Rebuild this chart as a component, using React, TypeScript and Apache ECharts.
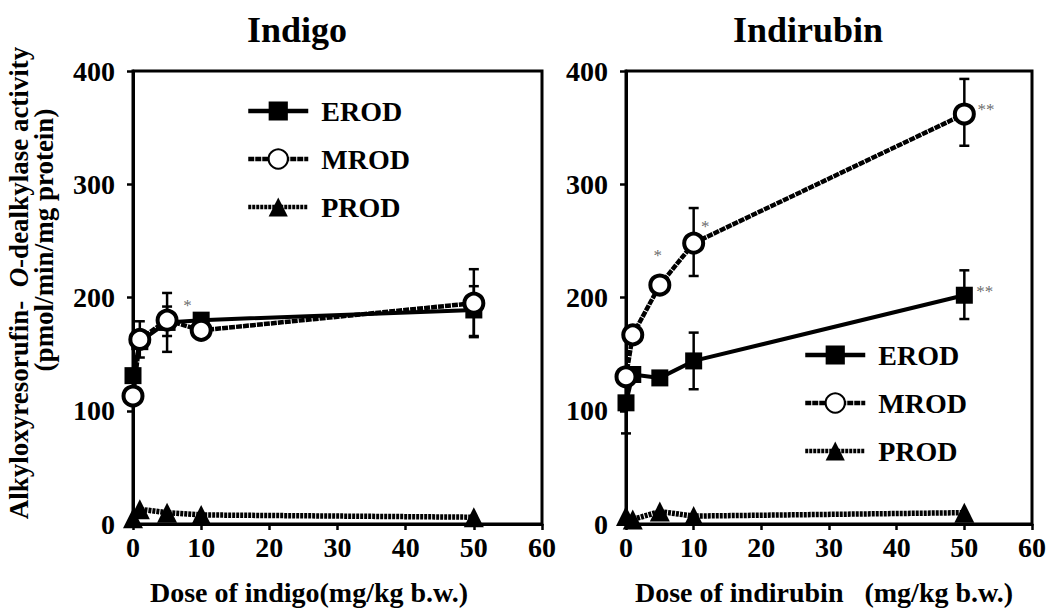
import React, { useEffect, useRef } from 'react';
import * as echarts from 'echarts';

// ---- data ----
const doses = [0, 1, 5, 10, 50];
const indigoEROD = [131, 161, 178, 180, 189];
const indigoMROD = [113, 163, 180, 171, 195];
const indigoPROD = [5, 13, 10, 8, 6];
const indirubinEROD = [107, 132, 129, 144, 202];
const indirubinMROD = [130, 167, 211, 248, 362];
const indirubinPROD = [7, 4, 11, 7, 10];

// error bars: [dose, low, high]
const indigoErrors = [
  [1, 147, 179],
  [5, 152, 204],
  [5, 166, 192],
  [50, 166, 210],
  [50, 165, 225],
];
const indirubinErrors = [
  [0, 80, 133],
  [10, 119, 169],
  [50, 181, 224],
  [10, 219, 279],
  [50, 334, 393],
];

// significance marks: [dose, value, text]
const indigoMarks = [[8, 193, '*']];
const indirubinMarks = [
  [4.7, 237, '*'],
  [11.7, 263, '*'],
  [53.2, 366, '**'],
  [53.0, 205, '**'],
];

const xMin = 0, xMax = 60, xStep = 10;
const yMin = 0, yMax = 400, yStep = 100;
const legendNames = ['EROD', 'MROD', 'PROD'];

const FONT = '"Liberation Serif", "Times New Roman", serif';

const pair = (xs: number[], ys: number[]) => xs.map((x, i) => [x, ys[i]]);

export default function App() {
  const ref = useRef<HTMLDivElement>(null);
  useEffect(() => {
    if (!ref.current) return;
    const chart = echarts.init(ref.current, null, { renderer: 'svg' });

    const axisLabel = { color: '#000', fontFamily: FONT, fontWeight: 'bold', fontSize: 28 };
    const mkX = (gi: number) => ({
      type: 'value', gridIndex: gi, min: xMin, max: xMax, interval: xStep,
      axisLine: { show: true, lineStyle: { color: '#000', width: 3 } },
      axisTick: { show: true, length: 6, lineStyle: { color: '#000', width: 2.5 } },
      axisLabel: { ...axisLabel, margin: 9 },
      splitLine: { show: false },
    });
    const mkY = (gi: number) => ({
      type: 'value', gridIndex: gi, min: yMin, max: yMax, interval: yStep,
      axisLine: { show: true, lineStyle: { color: '#000', width: 3 } },
      axisTick: { show: true, length: 6, lineStyle: { color: '#000', width: 2.5 } },
      axisLabel: { ...axisLabel, margin: 18 },
      splitLine: { show: false },
    });

    const erod = (gi: number, d: number[]) => ({
      name: 'EROD', type: 'line', xAxisIndex: gi, yAxisIndex: gi, data: pair(doses, d),
      symbol: 'rect', symbolSize: 17, z: 4,
      lineStyle: { color: '#000', width: 4 },
      itemStyle: { color: '#000', borderColor: '#000', borderWidth: 0 },
    });
    const mrod = (gi: number, d: number[]) => ({
      name: 'MROD', type: 'line', xAxisIndex: gi, yAxisIndex: gi, data: pair(doses, d),
      symbol: 'circle', symbolSize: 19, z: 5,
      lineStyle: { color: '#000', width: 4.5, type: [6, 1] },
      itemStyle: { color: '#fff', borderColor: '#000', borderWidth: 4 },
    });
    const prod = (gi: number, d: number[]) => ({
      name: 'PROD', type: 'line', xAxisIndex: gi, yAxisIndex: gi, data: pair(doses, d),
      symbol: 'triangle', symbolSize: 20, z: 3,
      lineStyle: { color: '#000', width: 5.5, type: [3, 1] },
      itemStyle: { color: '#000' },
    });
    const errs = (gi: number, d: number[][]) => ({
      type: 'custom', xAxisIndex: gi, yAxisIndex: gi, data: d, z: 2,
      encode: { x: 0, y: [1, 2] },
      renderItem: (_p: any, api: any) => {
        const x = api.value(0), lo = api.value(1), hi = api.value(2);
        const a = api.coord([x, lo]);
        const b = api.coord([x, hi]);
        const w = 5;
        const style = { stroke: '#000', lineWidth: 2.5 };
        return {
          type: 'group',
          children: [
            { type: 'line', shape: { x1: a[0], y1: a[1], x2: b[0], y2: b[1] }, style },
            { type: 'line', shape: { x1: a[0] - w, y1: a[1], x2: a[0] + w, y2: a[1] }, style },
            { type: 'line', shape: { x1: b[0] - w, y1: b[1], x2: b[0] + w, y2: b[1] }, style },
          ],
        };
      },
    });
    const marks = (gi: number, d: any[]) => ({
      type: 'scatter', xAxisIndex: gi, yAxisIndex: gi, data: d, symbolSize: 1, z: 6,
      itemStyle: { color: 'rgba(0,0,0,0)' },
      label: {
        show: true, position: 'inside', formatter: (p: any) => p.data[2],
        color: '#444', fontFamily: FONT, fontSize: 17,
      },
      silent: true,
    });

    const legendText = { color: '#000', fontFamily: FONT, fontWeight: 'bold', fontSize: 28, padding: [0, 0, 0, 8] };
    const legendCommon = {
      data: legendNames, orient: 'vertical', itemWidth: 60, itemHeight: 24,
      itemGap: 20, textStyle: legendText, selectedMode: false,
      lineStyle: { width: 4.5 },
    };

    const option: any = {
      animation: false,
      grid: [
        { left: 133, top: 71, width: 409, height: 453, show: true, borderColor: '#000', borderWidth: 3 },
        { left: 626, top: 71, width: 408, height: 453, show: true, borderColor: '#000', borderWidth: 3 },
      ],
      xAxis: [mkX(0), mkX(1)],
      yAxis: [mkY(0), mkY(1)],
      legend: [
        { ...legendCommon, left: 241, top: 92 },
        { ...legendCommon, left: 798, top: 336 },
      ],
      graphic: [
        { type: 'text', x: 297, y: 30, style: { text: 'Indigo', fontFamily: FONT, fontWeight: 'bold', fontSize: 36, fill: '#000', textAlign: 'center', textVerticalAlign: 'middle' } },
        { type: 'text', x: 808, y: 30, style: { text: 'Indirubin', fontFamily: FONT, fontWeight: 'bold', fontSize: 36, fill: '#000', textAlign: 'center', textVerticalAlign: 'middle' } },
        { type: 'text', x: 309, y: 592, style: { text: 'Dose of indigo(mg/kg b.w.)', fontFamily: FONT, fontWeight: 'bold', fontSize: 28, fill: '#000', textAlign: 'center', textVerticalAlign: 'middle' } },
        { type: 'text', x: 824, y: 592, style: { text: 'Dose of indirubin\u00a0\u00a0\u00a0(mg/kg b.w.)', fontFamily: FONT, fontWeight: 'bold', fontSize: 28, fill: '#000', textAlign: 'center', textVerticalAlign: 'middle' } },
        {
          type: 'text', x: 19, y: 283, rotation: Math.PI / 2,
          style: {
            text: '{a|Alkyloxyresorufin-\u00a0\u00a0}{i|O}{a|-dealkylase activity}',
            rich: {
              a: { fontFamily: FONT, fontWeight: 'bold', fontSize: 27, fill: '#000' },
              i: { fontFamily: FONT, fontWeight: 'bold', fontStyle: 'italic', fontSize: 27, fill: '#000' },
            },
            textAlign: 'center', textVerticalAlign: 'middle',
          },
        },
        {
          type: 'text', x: 44, y: 240, rotation: Math.PI / 2,
          style: { text: '(pmol/min/mg protein)', fontFamily: FONT, fontWeight: 'bold', fontSize: 27, fill: '#000', textAlign: 'center', textVerticalAlign: 'middle' },
        },
      ],
      series: [
        errs(0, indigoErrors), erod(0, indigoEROD), mrod(0, indigoMROD), prod(0, indigoPROD), marks(0, indigoMarks),
        errs(1, indirubinErrors), erod(1, indirubinEROD), mrod(1, indirubinMROD), prod(1, indirubinPROD), marks(1, indirubinMarks),
      ],
    };
    chart.setOption(option);
    return () => chart.dispose();
  }, []);
  return <div ref={ref} style={{ position: 'fixed', left: 0, top: 0, width: 1049, height: 611, background: '#fff' }} />;
}
